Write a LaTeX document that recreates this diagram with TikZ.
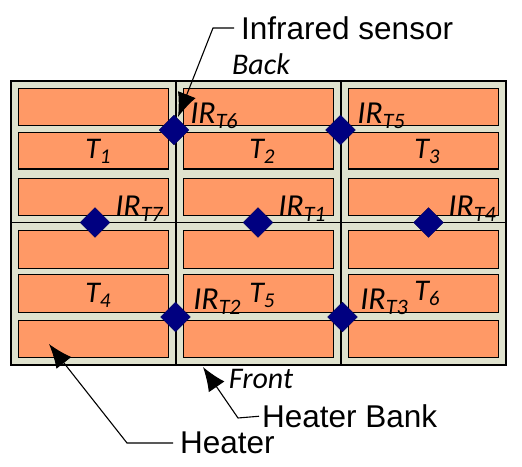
\documentclass[tikz,border=0pt]{standalone}
\usepackage{fontspec}
\setmainfont{Liberation Sans}
\newfontfamily\handfont{Carlito}
\usetikzlibrary{arrows.meta, shapes.geometric}
\definecolor{bankfill}{HTML}{DFE2CE}
\definecolor{heaterfill}{HTML}{FF9966}
\definecolor{sensorfill}{HTML}{000080}
\newcommand{\hand}[1]{{\handfont\itshape\fontsize{30}{30}\selectfont #1}}
\newcommand{\zonelabel}[1]{{\handfont\itshape\fontsize{30}{30}\selectfont T\raisebox{-5pt}{\fontsize{21}{21}\selectfont #1}}}
\newcommand{\irlabel}[1]{{\handfont\itshape\fontsize{32}{32}\selectfont IR\raisebox{-5pt}{\fontsize{22}{22}\selectfont T#1}}}
\tikzset{
  heaterbox/.style={draw=black, fill=heaterfill, line width=1.1pt},
  sensordot/.style={diamond, fill=sensorfill, draw=sensorfill!70!black, line width=0.4pt, inner sep=0pt, minimum width=30pt, minimum height=30pt},
  callout/.style={font=\fontsize{31.5}{31.5}\selectfont, inner sep=0pt},
  leader/.style={draw=black, line width=1.1pt, -{Latex[length=24pt, width=19pt]}}
}

\begin{document}
\begin{tikzpicture}[x=1pt, y=-1pt]
  \useasboundingbox (0, 0) rectangle (522, 466);
  % bank frame
  \draw[fill=bankfill, draw=black, line width=2.4pt] (11, 81) rectangle (506, 365);
  \draw[line width=1.8pt] (176, 81) -- (176, 365);
  \draw[line width=1.8pt] (341, 81) -- (341, 365);
  \draw[line width=1.8pt] (11, 222.5) -- (506, 222.5);
  % heaters, column by column
  \foreach \xa/\xb in {18.5/168.5, 183.5/333.5, 348.5/498.5} {
    \foreach \ya/\yb in {88.5/125.5, 132.5/169, 178.5/215.5, 230.5/268.5, 274.5/312.5, 320.5/357.5} {
      \draw[heaterbox] (\xa, \ya) rectangle (\xb, \yb);
    }
  }
  % zone labels
  \node (zone1) at (98, 151) {\zonelabel{1}};
  \node (zone2) at (262, 151) {\zonelabel{2}};
  \node (zone3) at (427, 151) {\zonelabel{3}};
  \node (zone4) at (98, 295) {\zonelabel{4}};
  \node (zone5) at (262, 295) {\zonelabel{5}};
  \node (zone6) at (427, 293) {\zonelabel{6}};
  % sensors
  \node[sensordot] (ir6) at (174, 130) {};
  \node[sensordot] (ir5) at (340.5, 130) {};
  \node[sensordot] (ir7) at (95, 222.5) {};
  \node[sensordot] (ir1) at (258, 222.5) {};
  \node[sensordot] (ir4) at (428.5, 222.5) {};
  \node[sensordot] (ir2) at (175.5, 317) {};
  \node[sensordot] (ir3) at (342.5, 317) {};
  \node (label6) at (214, 116) {\irlabel{6}};
  \node (label5) at (381, 116) {\irlabel{5}};
  \node (label7) at (139, 209) {\irlabel{7}};
  \node (label1) at (302, 209) {\irlabel{1}};
  \node (label4) at (472, 209) {\irlabel{4}};
  \node (label2) at (217, 302) {\irlabel{2}};
  \node (label3) at (384, 302) {\irlabel{3}};
  % sides
  \node (back) at (261, 64) {\hand{Back}};
  \node (front) at (261, 379) {\hand{Front}};
  % callouts
  \node[callout, anchor=west] (sensortext) at (241, 28) {Infrared sensor};
  \node[callout, anchor=west] (banktext) at (262, 416) {Heater Bank};
  \node[callout, anchor=west] (heatertext) at (180, 443) {Heater};
  \coordinate (sensortip) at (178, 117);
  \coordinate (banktip) at (203, 367);
  \coordinate (heatertip) at (49, 344);
  \draw[leader, shorten <=7pt] (sensortext.west) -- (213, 28) -- (sensortip);
  \draw[leader, shorten <=3pt] (banktext.west) -- (238, 418) -- (banktip);
  \draw[leader, shorten <=7pt] (heatertext.west) -- (127, 443) -- (heatertip);
\end{tikzpicture}
\end{document}
